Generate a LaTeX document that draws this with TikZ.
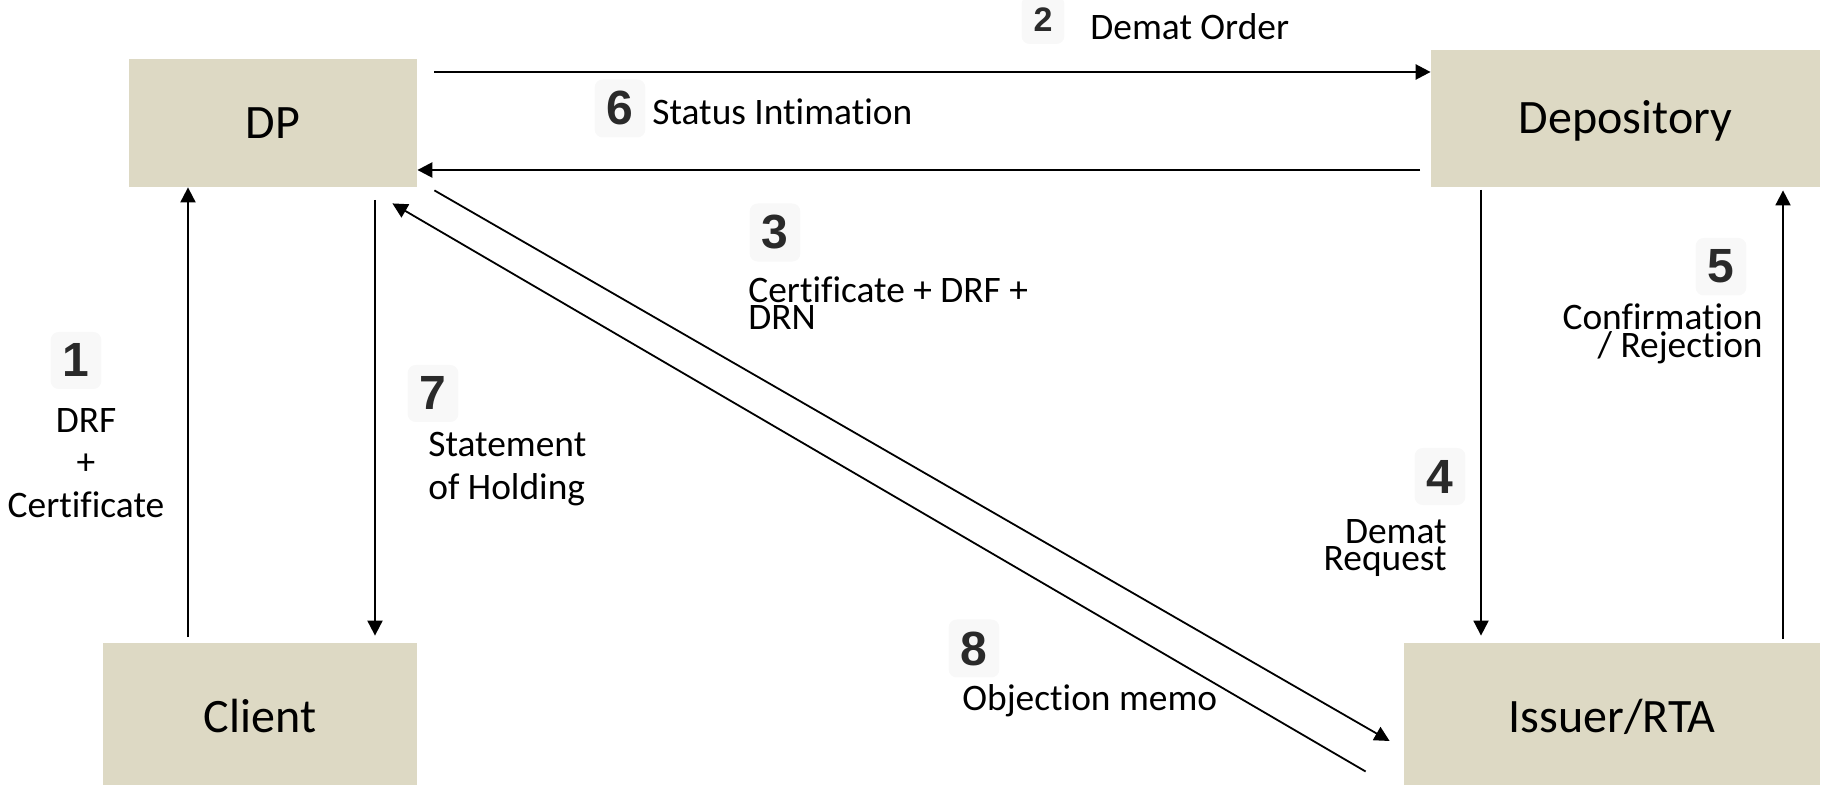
\documentclass[tikz,border=0pt]{standalone}
\usepackage{fontspec}
\setmainfont{Carlito}[Ligatures=NoCommon]
\newfontfamily\digitfont{Liberation Sans}
\usetikzlibrary{arrows.meta,calc}

\definecolor{boxfill}{HTML}{DDD9C4}
\definecolor{digitink}{HTML}{2A2A2A}
\definecolor{digithalo}{HTML}{F8F8F8}

\tikzset{
  party/.style={fill=boxfill, inner sep=0pt, font=\fontsize{24pt}{28pt}\selectfont,
                text height=15.4pt, text depth=0pt},
  flow/.style={-{Triangle[length=7.5pt,width=7.5pt]}, line width=1pt},
  flowh/.style={flow, line width=1.25pt},
  flowd/.style={flow, line width=0.9pt},
  stepno/.style={font=\digitfont\bfseries\fontsize{24pt}{24pt}\selectfont, text=digitink,
                 fill=digithalo, rounded corners=4pt, inner sep=6pt, anchor=base},
  lbl/.style={font=\fontsize{18.7pt}{13.5pt}\selectfont, inner sep=0pt},
  lblwide/.style={font=\fontsize{18.7pt}{21.25pt}\selectfont, inner sep=0pt},
}

\begin{document}
\begin{tikzpicture}[x=0.5pt, y=-0.5pt]
  \useasboundingbox (0,0) rectangle (1823,785);

  % parties
  \node[party, minimum width=144pt, minimum height=64pt]   (dp)     at (273,123)    {DP};
  \node[party, minimum width=194.5pt, minimum height=68.5pt] (dep)  at (1625.5,118.5) {Depository};
  \node[party, minimum width=157pt, minimum height=74.5pt] (client) at (260,717.5)  {Client};
  \node[party, minimum width=208pt, minimum height=74.5pt] (issuer) at (1612,717.5) {Issuer/RTA};

  % free ends of the connectors
  \coordinate (a1s) at (188,637);
  \coordinate (a2s) at (434,72);
  \coordinate (a6s) at (1420,170);
  \coordinate (a7s) at (375,200);
  \coordinate (a4s) at (1481,190);
  \coordinate (a5s) at (1783,639);

  % 1: client -> DP
  \draw[flow] (a1s) -- (a1s |- dp.south);
  % 2: DP -> depository
  \draw[flowh] (a2s) -- (a2s -| dep.west);
  % 6: depository -> DP
  \draw[flowh] (a6s) -- (a6s -| dp.east);
  % 7: DP -> client
  \draw[flow, shorten >=3.5pt] (a7s) -- (a7s |- client.north);
  % 4: depository -> issuer
  \draw[flow, shorten >=3.5pt] (a4s) -- (a4s |- issuer.north);
  % 5: issuer -> depository
  \draw[flow, shorten >=1.5pt] (a5s) -- (a5s |- dep.south);
  % 3: DP -> issuer
  \draw[flowd] ($(dp.south east)+(17,3)$) -- ($(issuer.west)+(-14,23.5)$);
  % 8: issuer -> DP
  \draw[flowd] ($(issuer.west)+(-38,54)$) -- ($(dp.south east)+(-25,16)$);

  % step numbers and labels (multi-line labels are placed by their last baseline)
  \node[stepno, font=\digitfont\bfseries\fontsize{17pt}{17pt}\selectfont] (n2) at (1043,32) {2};
  \node[lbl, anchor=base west] (l2) at (1090,40) {Demat Order};

  \node[stepno] (n6) at (620,125) {6};
  \node[lbl, anchor=base west] (l6) at (652,125) {Status Intimation};

  \node[stepno] (n3) at (775,249) {3};
  \node[lbl, anchor=base west, align=left] (l3) at (748,330) {Certificate + DRF +\\DRN};

  \node[stepno] (n1) at (76,377) {1};
  \node[lblwide, anchor=base, align=center] (l1) at (86,517) {DRF\\+\\Certificate};

  \node[stepno] (n7) at (433,410) {7};
  \node[lblwide, anchor=base west, align=left] (l7) at (428,499) {Statement\\of Holding};

  \node[stepno] (n4) at (1440,493) {4};
  \node[lbl, anchor=base east, align=right] (l4) at (1447,570) {Demat\\Request};

  \node[stepno] (n5) at (1721,283) {5};
  \node[lbl, anchor=base east, align=right, font=\fontsize{18.7pt}{14pt}\selectfont] (l5) at (1763,358) {Confirmation\\/ Rejection};

  \node[stepno] (n8) at (974,665) {8};
  \node[lbl, anchor=base west] (l8) at (962,710) {Objection memo};
\end{tikzpicture}
\end{document}
